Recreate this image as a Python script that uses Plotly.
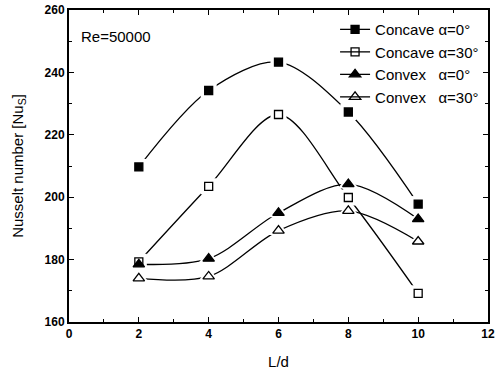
import plotly.graph_objects as go

x_ld = [2, 4, 6, 8, 10]
concave_0 = [209.7, 234.2, 243.3, 227.3, 197.8]
concave_30 = [179.3, 203.5, 226.5, 199.9, 169.2]
convex_0 = [178.5, 180.3, 195.0, 204.2, 193.0]
convex_30 = [174.0, 174.6, 189.3, 195.6, 185.8]

series = [
    ("Concave α=0°", concave_0, "square", "black", 8),
    ("Concave α=30°", concave_30, "square-open", "black", 8),
    ("Convex   α=0°", convex_0, "triangle-up", "black", 10),
    ("Convex   α=30°", convex_30, "triangle-up-open", "black", 10),
]

FONT = "Arial, Liberation Sans, sans-serif"
fig = go.Figure()

for name, ys, sym, col, sz in series:
    fig.add_trace(go.Scatter(x=x_ld, y=ys, mode="lines", line=dict(color="black", width=1.3, shape="spline", smoothing=0.9),
                             showlegend=False, hoverinfo="skip"))
for name, ys, sym, col, sz in series:
    fig.add_trace(go.Scatter(x=x_ld, y=ys, mode="markers", showlegend=False, hoverinfo="skip",
                             marker=dict(symbol=sym.replace("-open", ""), size=sz + 8, color="white", line=dict(width=0))))
for name, ys, sym, col, sz in series:
    fig.add_trace(go.Scatter(x=x_ld, y=ys, mode="markers", showlegend=False,
                             marker=dict(symbol=sym, size=sz, color="black", line=dict(color="black", width=1.3))))
for name, ys, sym, col, sz in series:
    fig.add_trace(go.Scatter(x=[None], y=[None], mode="lines+markers", name=name,
                             line=dict(color="black", width=1.3),
                             marker=dict(symbol=sym, size=sz, color="black", line=dict(color="black", width=1.3))))

axis_common = dict(showline=True, linecolor="black", linewidth=2, mirror="ticks", ticks="inside",
                   ticklen=5, tickwidth=1.3, tickcolor="black", showgrid=False, zeroline=False, automargin=False,
                   tickfont=dict(family=FONT, size=12, color="black", weight="bold"),
                   minor=dict(ticks="inside", ticklen=3, tickwidth=1, tickcolor="black"))

fig.update_xaxes(range=[0, 12], dtick=2, tick0=0, title=dict(text="L/d", font=dict(family=FONT, size=15, color="black"), standoff=16),
                 **axis_common)
fig.update_layout(xaxis_minor_dtick=1)
fig.update_yaxes(range=[160, 260], dtick=20, tick0=160,
                 title=dict(text="Nusselt number [Nu<sub>S</sub>]", font=dict(family=FONT, size=15, color="black"), standoff=17),
                 **axis_common)
fig.update_layout(yaxis_minor_dtick=10)

fig.add_annotation(text="Re=50000", x=0.025, y=0.915, xref="paper", yref="paper", xanchor="left", yanchor="middle",
                   showarrow=False, font=dict(family=FONT, size=15, color="black"))

fig.update_layout(
    width=499, height=374,
    margin=dict(l=69, r=11, t=10, b=52),
    plot_bgcolor="white", paper_bgcolor="white",
    font=dict(family=FONT, color="black"),
    legend=dict(x=0.635, y=0.99, xanchor="left", yanchor="top", bgcolor="rgba(0,0,0,0)",
                font=dict(family=FONT, size=15, color="black"), tracegroupgap=0, itemwidth=30),
)

fig.write_html("out.html")
